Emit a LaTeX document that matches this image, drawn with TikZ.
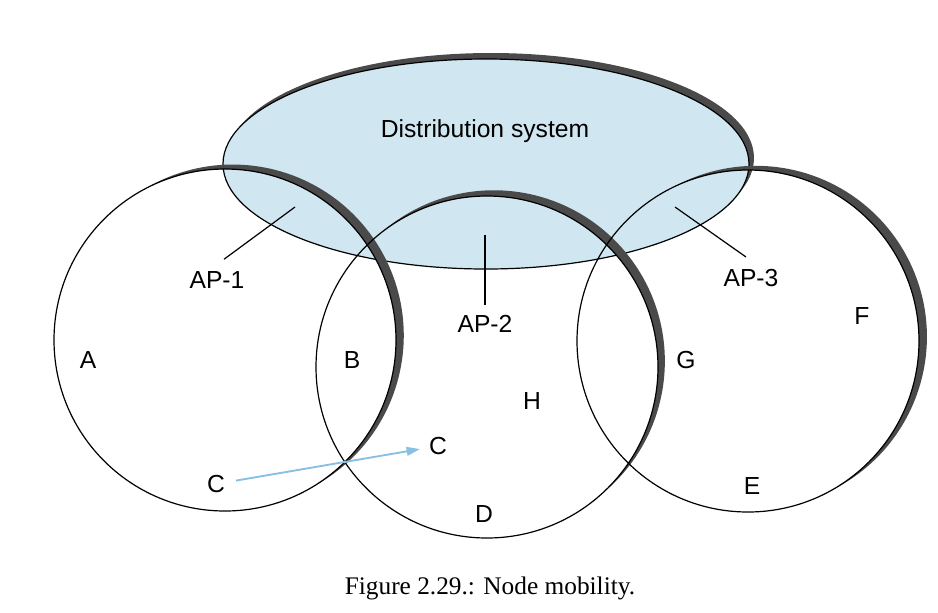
\documentclass[tikz,border=0pt]{standalone}
\usepackage{fontspec}
\setmainfont{Liberation Serif}
\newfontfamily\labelfont{Liberation Sans}
\usetikzlibrary{arrows.meta}

\definecolor{dsblue}{RGB}{208,230,240}
\definecolor{shadowgray}{RGB}{74,74,74}
\definecolor{moveblue}{RGB}{135,192,226}

\tikzset{
  lbl/.style={font=\labelfont\fontsize{18.5}{22}\selectfont, inner sep=0.75pt},
  cell/.style={draw=black, line width=0.9pt},
  crescent/.style={fill=shadowgray},
  pointer/.style={draw=black, line width=0.9pt},
  move/.style={draw=moveblue, line width=1.4pt, -{Triangle[length=10pt,width=6.5pt]}},
}

\begin{document}
\begin{tikzpicture}[x=0.75pt,y=0.75pt,yscale=-1,xscale=1]
\useasboundingbox (0,0) rectangle (938,612);

% centres of the three cells
\coordinate (c1) at (225,340);
\coordinate (c2) at (487,367);
\coordinate (c3) at (748,341);

% Shape: Ellipse [distribution system] with its shadow
\fill[shadowgray] (491,158) ellipse [x radius=263, y radius=105];
\filldraw[fill=dsblue, draw=black, line width=0.9pt] (486,164) ellipse [x radius=263, y radius=105];

% Shape: shadows of the cells
\fill[crescent] (c1) ++(58.5:171) arc [start angle=61.5, end angle=-121.5, radius=171]
  arc [start angle=-118.5, end angle=58.5, radius=171] -- cycle;
\fill[crescent] (c2) ++(48.5:171) arc [start angle=51.5, end angle=-131.5, radius=171]
  arc [start angle=-128.5, end angle=48.5, radius=171] -- cycle;
\fill[crescent] (c3) ++(60.5:171) arc [start angle=63.5, end angle=-119.5, radius=171]
  arc [start angle=-116.5, end angle=60.5, radius=171] -- cycle;

% Shape: Circles [cells]
\draw[cell] (c1) circle [radius=171];
\draw[cell] (c2) circle [radius=171];
\draw[cell] (c3) circle [radius=171];

% Text Node
\node[lbl] (ds) at (485,131) {Distribution system};
% Text Node
\node[lbl] (ap1) at (217,280) {AP-1};
% Text Node
\node[lbl] (ap2) at (485,324) {AP-2};
% Text Node
\node[lbl] (ap3) at (751,278) {AP-3};
% Text Node
\node[lbl] (a) at (88,360) {A};
% Text Node
\node[lbl] (b) at (352,360) {B};
% Text Node
\node[lbl] (g) at (686,360) {G};
% Text Node
\node[lbl] (f) at (862,316) {F};
% Text Node
\node[lbl] (h) at (532,401) {H};
% Text Node
\node[lbl] (cnew) at (438,446) {C};
% Text Node
\node[lbl] (cold) at (216,484) {C};
% Text Node
\node[lbl] (d) at (484,514) {D};
% Text Node
\node[lbl] (e) at (752,486) {E};

% Straight Lines [access points]
\coordinate (ap1in) at (295,207);
\coordinate (ap2in) at (485,235);
\coordinate (ap3in) at (675,207);
\draw[pointer] (ap1.north) ++(7,-11) -- (ap1in);
\draw[pointer] (ap2.north) ++(0,-9) -- (ap2in);
\draw[pointer] (ap3.north) ++(-5,-11) -- (ap3in);

% Straight Lines [node C moves]
\draw[move, shorten <=7.5pt, shorten >=6pt] (cold) -- (cnew);

% Caption
\node[font=\fontsize{19}{23}\selectfont] (caption) at (490,588) {Figure 2.29.: Node mobility.};

\end{tikzpicture}
\end{document}
